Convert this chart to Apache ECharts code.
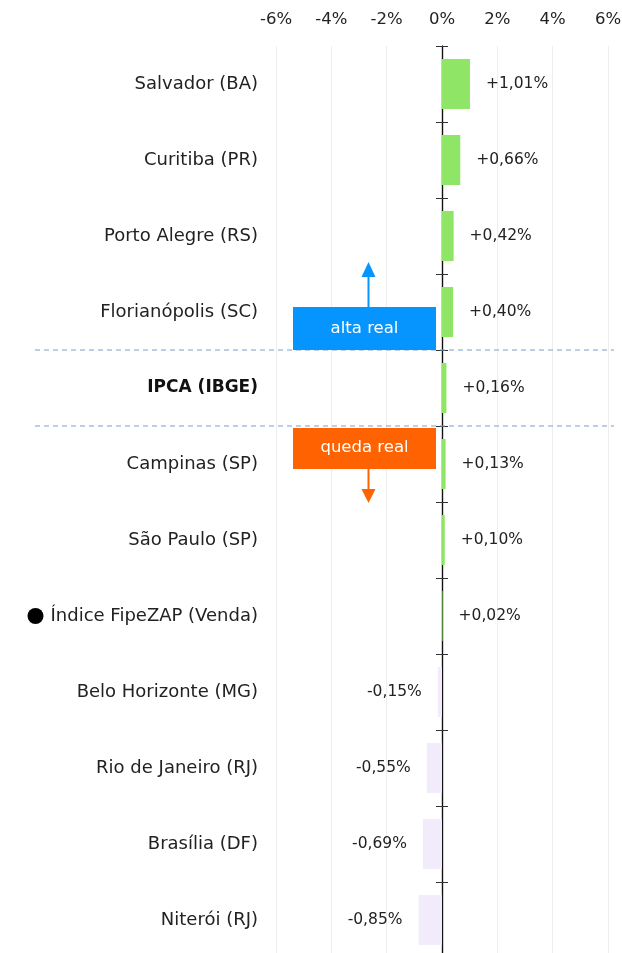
<!DOCTYPE html>
<html>
<head>
<meta charset="utf-8">
<script src="https://cdn.jsdelivr.net/npm/echarts@6/dist/echarts.min.js"></script>
<style>
    html, body { margin: 0; padding: 0; background: #fff; }
    #main { width: 622px; height: 953px; }
</style>
</head>
<body>
<div id="main"></div>
<script>
// cidades / índices (de cima para baixo)
var cidades = ['Salvador (BA)', 'Curitiba (PR)', 'Porto Alegre (RS)', 'Florianópolis (SC)', 'IPCA (IBGE)',
    'Campinas (SP)', 'São Paulo (SP)', 'Índice FipeZAP (Venda)', 'Belo Horizonte (MG)', 'Rio de Janeiro (RJ)',
    'Brasília (DF)', 'Niterói (RJ)'];
// variação (%)
var variacao = [1.01, 0.66, 0.42, 0.40, 0.16, 0.13, 0.10, 0.02, -0.15, -0.55, -0.69, -0.85];
var eixoX = [-6, -4, -2, 0, 2, 4, 6];

var fonte = 'DejaVu Sans';
var corTexto = '#222';

function fmtPct(v) {
    var s = Math.abs(v).toFixed(2).replace('.', ',');
    return (v > 0 ? '+' : '-') + s + '%';
}

var myChart = echarts.init(document.getElementById('main'));

var dados = [];
for (var i = 0; i < variacao.length; i++) {
    var v = variacao[i];
    dados.push({
        value: v,
        itemStyle: { color: v >= 0 ? '#8ee566' : '#f1ebfb' },
        label: { position: v >= 0 ? 'right' : 'left' }
    });
}

var eixoValor = {
    type: 'value',
    position: 'top',
    min: eixoX[0],
    max: eixoX[eixoX.length - 1],
    interval: 2,
    axisLine: { show: false },
    axisTick: { show: false },
    axisLabel: {
        margin: 18,
        color: corTexto,
        fontFamily: fonte,
        fontSize: 16.5,
        formatter: function(v) { return v + '%'; }
    },
    splitLine: { show: true, lineStyle: { color: '#eeeeee', width: 1 } }
};

var option = {
    animation: false,
    grid: { left: 276, right: 14, top: 46, height: 912, containLabel: false, outerBoundsMode: 'none' },
    xAxis: [eixoValor, {
        // cópia invisível, só para o segundo eixo y ficar no zero
        type: 'value',
        position: 'bottom',
        min: eixoX[0],
        max: eixoX[eixoX.length - 1],
        interval: 2,
        show: false
    }],
    yAxis: [{
        type: 'category',
        inverse: true,
        data: cidades,
        position: 'left',
        axisLine: { onZero: true, onZeroAxisIndex: 0, lineStyle: { color: '#111', width: 1.2 } },
        axisTick: { show: true, length: 6, lineStyle: { color: '#333' } },
        axisLabel: {
            margin: 18,
            color: corTexto,
            fontFamily: fonte,
            fontSize: 18,
            formatter: function(v) {
                if (v == 'IPCA (IBGE)') return '{b|' + v + '}';
                if (v.indexOf('FipeZAP') >= 0) return '{dot|}{n|' + v + '}';
                return v;
            },
            rich: {
                b: { fontWeight: 'bold', fontFamily: fonte, fontSize: 17, color: '#111' },
                n: { fontFamily: fonte, fontSize: 18, color: corTexto, padding: [0, 0, 0, 7] },
                dot: { width: 16, height: 16, borderRadius: 8, backgroundColor: '#000' }
            }
        }
    }, {
        // ticks do lado direito do eixo
        type: 'category',
        inverse: true,
        data: cidades,
        position: 'left',
        axisLine: { onZero: true, onZeroAxisIndex: 1, lineStyle: { color: '#111', width: 1.2 } },
        axisTick: { show: true, inside: true, length: 6, lineStyle: { color: '#333' } },
        axisLabel: { show: false }
    }],
    series: [{
        type: 'bar',
        xAxisIndex: 0,
        yAxisIndex: 0,
        barWidth: 50,
        data: dados,
        label: {
            show: true,
            distance: 16,
            color: corTexto,
            fontFamily: fonte,
            fontSize: 15.5,
            formatter: function(p) { return fmtPct(p.value); }
        }
    }]
};
myChart.setOption(option);

// anotações: linhas tracejadas em volta do IPCA + caixas alta/queda real
function desenhaAnotacoes() {
    var yFloripa = myChart.convertToPixel({ yAxisIndex: 0 }, 'Florianópolis (SC)');
    var yIpca = myChart.convertToPixel({ yAxisIndex: 0 }, 'IPCA (IBGE)');
    var yCamp = myChart.convertToPixel({ yAxisIndex: 0 }, 'Campinas (SP)');
    var x0 = myChart.convertToPixel({ xAxisIndex: 0 }, 0);
    var yTopo = (yFloripa + yIpca) / 2;
    var yBase = (yIpca + yCamp) / 2;
    var caixaDir = x0 - 6, caixaLarg = 143, caixaAlt = 43;
    var setaX = caixaDir - caixaLarg / 2 + 4;
    var azul = '#0695ff', laranja = '#ff6200';
    var tracejado = { stroke: '#7a9fd0', lineWidth: 1.2, lineDash: [5, 4] };

    myChart.setOption({
        graphic: [
            { type: 'line', shape: { x1: 35, y1: yTopo, x2: 614, y2: yTopo }, style: tracejado, z: 10 },
            { type: 'line', shape: { x1: 35, y1: yBase, x2: 614, y2: yBase }, style: tracejado, z: 10 },
            { type: 'rect', shape: { x: caixaDir - caixaLarg, y: yTopo - caixaAlt, width: caixaLarg, height: caixaAlt }, style: { fill: azul }, z: 11 },
            { type: 'text', x: caixaDir - caixaLarg / 2, y: yTopo - caixaAlt / 2, style: { text: 'alta real', fill: '#fff', font: '16.5px ' + fonte, align: 'center', verticalAlign: 'middle' }, z: 12 },
            { type: 'line', shape: { x1: setaX, y1: yTopo - caixaAlt, x2: setaX, y2: yTopo - caixaAlt - 32 }, style: { stroke: azul, lineWidth: 2 }, z: 11 },
            { type: 'polygon', shape: { points: [[setaX - 7, yTopo - caixaAlt - 30], [setaX + 7, yTopo - caixaAlt - 30], [setaX, yTopo - caixaAlt - 45]] }, style: { fill: azul }, z: 11 },
            { type: 'rect', shape: { x: caixaDir - caixaLarg, y: yBase + 2, width: caixaLarg, height: 41 }, style: { fill: laranja }, z: 11 },
            { type: 'text', x: caixaDir - caixaLarg / 2, y: yBase + 2 + 20, style: { text: 'queda real', fill: '#fff', font: '16.5px ' + fonte, align: 'center', verticalAlign: 'middle' }, z: 12 },
            { type: 'line', shape: { x1: setaX, y1: yBase + 43, x2: setaX, y2: yBase + 66 }, style: { stroke: laranja, lineWidth: 2 }, z: 11 },
            { type: 'polygon', shape: { points: [[setaX - 7, yBase + 63], [setaX + 7, yBase + 63], [setaX, yBase + 77]] }, style: { fill: laranja }, z: 11 }
        ]
    });
}
desenhaAnotacoes();
</script>
</body>
</html>
